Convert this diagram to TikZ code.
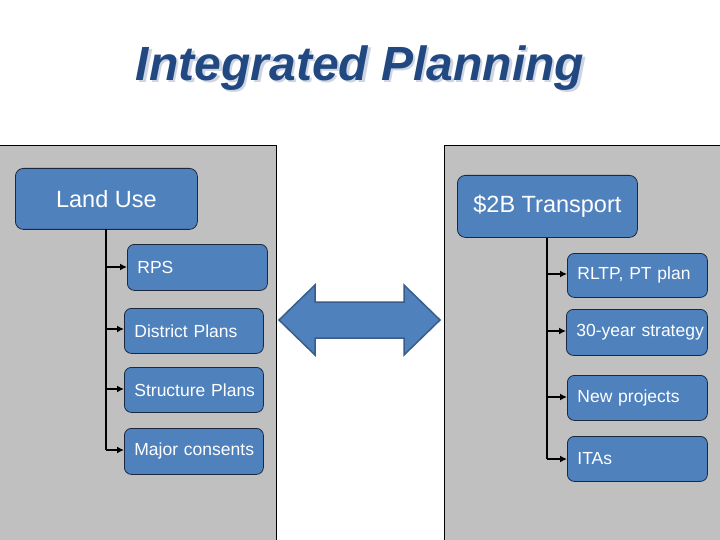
\documentclass[tikz,border=0pt]{standalone}
\usepackage{fontspec}
\setmainfont{Liberation Sans}
\usetikzlibrary{arrows.meta}
\definecolor{boxblue}{RGB}{79,129,189}
\definecolor{boxedge}{RGB}{28,40,62}
\definecolor{panelgray}{RGB}{192,192,192}
\definecolor{titleblue}{RGB}{33,72,128}
\definecolor{arrowedge}{RGB}{56,93,138}
\definecolor{shadowc}{RGB}{205,213,226}
\begin{document}
\begin{tikzpicture}[x=1pt,y=-1pt,
  panel/.style={draw=black, line width=0.8pt, fill=panelgray},
  headbox/.style={draw=boxedge, fill=boxblue, rounded corners=8pt, line width=0.8pt,
    text=white, font=\fontsize{23.5}{26}\selectfont, inner sep=0pt, anchor=north west},
  childbox/.style={draw=boxedge, fill=boxblue, rounded corners=7pt, line width=0.8pt,
    text=white, font=\fontsize{17.5}{20}\selectfont, inner ysep=0pt, inner xsep=10pt,
    align=left, anchor=north west, minimum height=46pt},
  link/.style={line width=2pt, -{Latex[length=7pt,width=7pt]}},
  titlestyle/.style={font=\fontsize{48}{52}\selectfont\bfseries\itshape}]
\useasboundingbox (0,0) rectangle (720,540);
\fill[white] (0,0) rectangle (720,540);
% panels
\draw[panel] (-2,145) rectangle (276,545);
\draw[panel] (444,145) rectangle (725,545);
% title
\node[titlestyle, text=shadowc] (titleshadow) at (362.5,70.5) {Integrated Planning};
\node[titlestyle, text=titleblue] (title) at (360,68) {Integrated Planning};
% left tree
\node[headbox, minimum width=182pt, minimum height=61pt] (land) at (15,168) {Land Use};
\node[childbox, text width=120pt] (rps) at (127,244) {\mbox{RPS}};
\node[childbox, text width=119pt, minimum height=45pt] (district) at (124,308) {\mbox{District Plans}};
\node[childbox, text width=119pt, minimum height=45pt] (structure) at (124,367) {\mbox{Structure Plans}};
\node[childbox, text width=119pt] (major) at (124,428) {\mbox{Major consents}};
\coordinate (lt) at (106,229);
\draw[line width=2pt] (lt) -- (106,450);
\draw[link] (106,267) -- (rps.west |- 0,267);
\draw[link] (106,329) -- (district.west |- 0,329);
\draw[link] (106,389) -- (structure.west |- 0,389);
\draw[link] (106,450) -- (major.west |- 0,450);
% right tree
\node[headbox, minimum width=180pt, minimum height=62pt] (trans) at (457,175) {\$2B Transport};
\node[childbox, text width=120pt, minimum height=44pt] (rltp) at (567,253) {\mbox{RLTP, PT plan}};
\node[childbox, text width=121pt] (strat) at (566,309) {\mbox{30-year strategy}};
\node[childbox, text width=120pt, minimum height=45pt] (newp) at (567,375) {\mbox{New projects}};
\node[childbox, text width=120pt, minimum height=45pt] (itas) at (567,436) {\mbox{ITAs}};
\draw[line width=2pt] (trans.south -| 547,0) -- (547,459);
\draw[link] (547,274) -- (rltp.west |- 0,274);
\draw[link] (547,331) -- (strat.west |- 0,331);
\draw[link] (547,397) -- (newp.west |- 0,397);
\draw[link] (547,459) -- (itas.west |- 0,459);
% double arrow
\draw[fill=boxblue, draw=arrowedge, line width=1.5pt, line join=miter]
  (279,320) -- (315,285) -- (315,302) -- (404,302) -- (404,285) -- (440,320)
  -- (404,355) -- (404,338) -- (315,338) -- (315,355) -- cycle;
\end{tikzpicture}
\end{document}
